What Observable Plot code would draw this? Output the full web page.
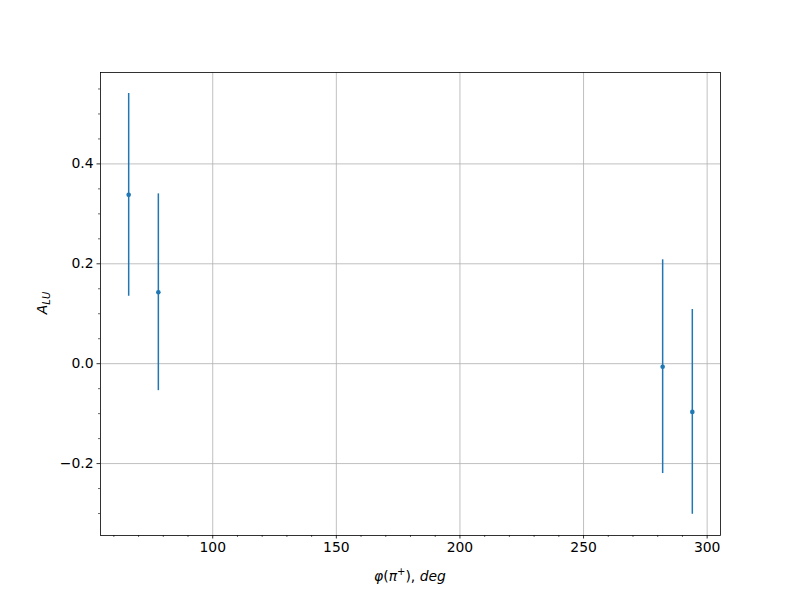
<!DOCTYPE html>
<html><head><meta charset="utf-8">
<script src="https://cdn.jsdelivr.net/npm/d3@7"></script>
<script src="https://cdn.jsdelivr.net/npm/@observablehq/plot@0.6"></script>
<style>body{margin:0;background:#fff;} svg{font-family:"DejaVu Sans",sans-serif;}</style>
</head><body><div id="chart"></div>
<script>
const phi = [66, 78, 282, 294];
const alu = [0.338, 0.143, -0.006, -0.0965];
const err = [0.203, 0.197, 0.214, 0.205];
const xMajor = [100, 150, 200, 250, 300];
const yMajor = [-0.2, 0.0, 0.2, 0.4];

const data = phi.map((p, i) => ({phi: p, a: alu[i], lo: alu[i] - err[i], hi: alu[i] + err[i]}));
const xMinor = d3.range(60, 306, 10).filter(v => v % 50 !== 0);
const yMinor = d3.range(-6, 12).map(k => +(k * 0.05).toFixed(2)).filter(v => Math.abs(v / 0.2 - Math.round(v / 0.2)) > 0.01);
const fmt = d => (d < 0 ? "\u2212" : "") + Math.abs(d).toFixed(1);
const c = "#1f77b4";

const plot = Plot.plot({
  width: 800, height: 600,
  marginLeft: 100, marginRight: 80, marginTop: 72, marginBottom: 65,
  style: {fontSize: "13.9px", fontFamily: "DejaVu Sans, sans-serif", color: "#000", background: "#fff"},
  x: {domain: [54.6, 305.4], label: null},
  y: {domain: [-0.344, 0.583], label: null},
  marks: [
    Plot.gridX(xMajor, {stroke: "#b0b0b0", strokeOpacity: 1, strokeWidth: 0.8}),
    Plot.gridY(yMajor, {stroke: "#b0b0b0", strokeOpacity: 1, strokeWidth: 0.8}),
    Plot.axisX(xMajor, {tickSize: 3.5, tickPadding: 3.5, tickFormat: d => String(d), strokeWidth: 0.8}),
    Plot.axisX(xMinor, {tickSize: 2, tickFormat: () => "", strokeWidth: 0.6}),
    Plot.axisY(yMajor, {tickSize: 3.5, tickPadding: 3.5, tickFormat: fmt, strokeWidth: 0.8}),
    Plot.axisY(yMinor, {tickSize: 2, tickFormat: () => "", strokeWidth: 0.6}),
    Plot.ruleX(data, {x: "phi", y1: "lo", y2: "hi", stroke: c, strokeWidth: 1.5}),
    Plot.dot(data, {x: "phi", y: "a", r: 2.3, fill: c, stroke: "none"}),
    Plot.frame({stroke: "#000", strokeWidth: 0.8})
  ]
});
document.getElementById("chart").appendChild(plot);
const svg = d3.select(plot);
// x label
const xl = svg.append("text").attr("x", 410).attr("y", 581).attr("text-anchor", "middle")
  .attr("font-size", "13.9px").attr("fill", "#000");
xl.append("tspan").attr("font-style", "italic").text("\u03C6");
xl.append("tspan").text("(");
xl.append("tspan").attr("font-style", "italic").text("\u03C0");
xl.append("tspan").attr("font-size", "10px").attr("dy", -6).text("+");
xl.append("tspan").attr("dy", 6).text("), ");
xl.append("tspan").attr("font-style", "italic").text("deg");
// y label
const yl = svg.append("text").attr("transform", "translate(47,303) rotate(-90)").attr("text-anchor", "middle")
  .attr("font-size", "13.9px").attr("fill", "#000");
yl.append("tspan").attr("font-style", "italic").text("A");
yl.append("tspan").attr("font-style", "italic").attr("font-size", "10px").attr("dy", 3).text("LU");
</script></body></html>
